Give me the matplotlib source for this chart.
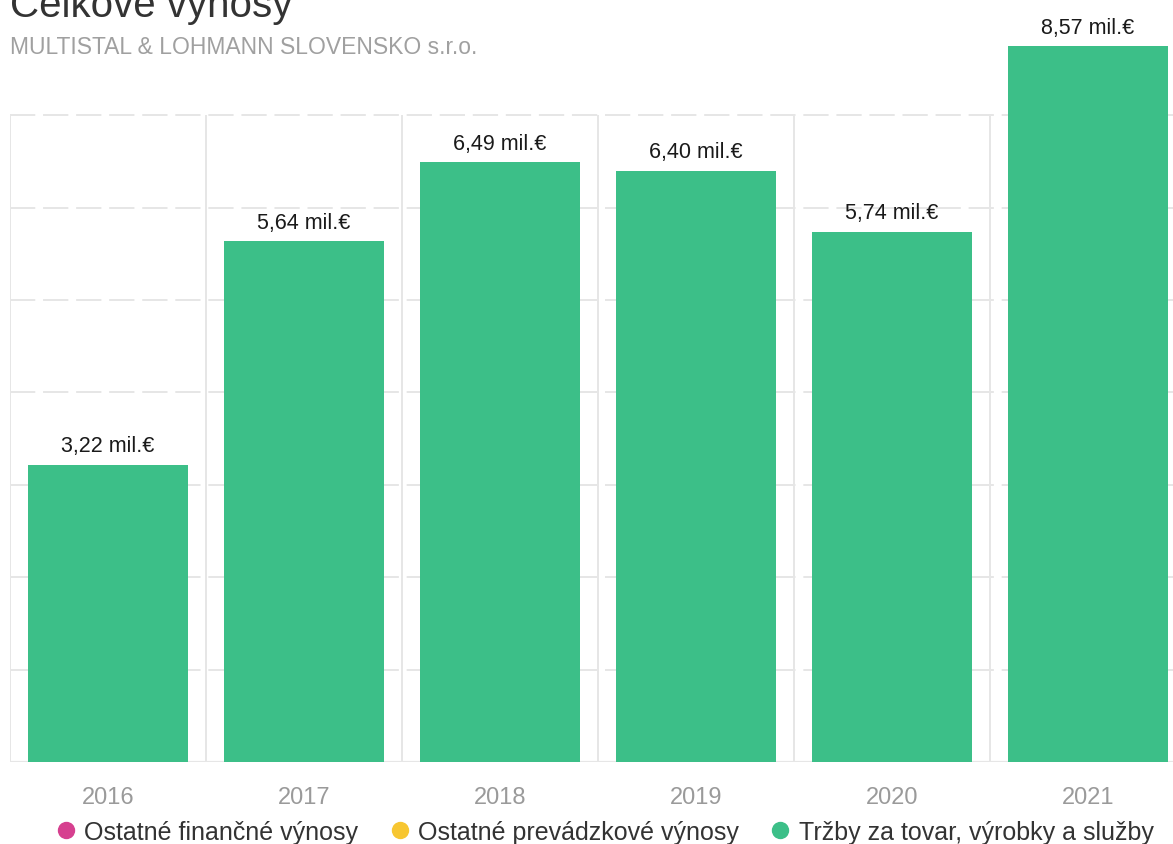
import numpy as np
import matplotlib.pyplot as plt
from matplotlib.lines import Line2D

plt.rcParams['font.family'] = ['Liberation Sans', 'DejaVu Sans']

years = ['2016', '2017', '2018', '2019', '2020', '2021']
trzby = [3.22, 5.64, 6.49, 6.40, 5.74, 8.57]
labels = ['3,22 mil.€', '5,64 mil.€', '6,49 mil.€', '6,40 mil.€', '5,74 mil.€', '8,57 mil.€']
series = ['Ostatné finančné výnosy', 'Ostatné prevádzkové výnosy', 'Tržby za tovar, výrobky a služby']
colors = ['#d6408f', '#f7c631', '#3cbf88']

W, H = 1173, 845
fig = plt.figure(figsize=(W / 100, H / 100), dpi=100)
# axes runs a bit past the right edge of the picture (cropped like the original)
ax = fig.add_axes([10 / W, 1 - 763 / H, 1176 / W, (763 - 47) / H])

x = np.arange(len(years))
ymax = 7.75
ax.set_xlim(-0.5, len(years) - 0.5)
ax.set_ylim(0, ymax)

grid_c = '#e6e6e6'
ax.hlines(np.arange(1, 8), -0.5, len(years) - 0.5, colors=grid_c, lw=1.4,
          linestyles=(0, (13, 4)), zorder=0)
ax.vlines(np.arange(-0.5, len(years)), 0, 7, colors=grid_c, lw=1.4, zorder=0)
ax.axhline(0, color=grid_c, lw=1.6, zorder=0)

ax.bar(x, trzby, width=0.816, color=colors[2], zorder=2)

for xi, v, lab in zip(x, trzby, labels):
    top = min(v, ymax)
    ax.annotate(lab, (xi, top), xytext=(0, 6), textcoords='offset points',
                ha='center', va='bottom', fontsize=15.5, color='#1a1a1a',
                annotation_clip=False)

ax.set_xticks(x)
ax.set_xticklabels(years, fontsize=17, color='#9a9a9a')
ax.tick_params(axis='x', length=0, pad=17)
ax.set_yticks([])
for s in ax.spines.values():
    s.set_visible(False)

fig.text(10 / W, 1 - 17 / H, 'Celkové výnosy', fontsize=29, color='#333333',
         ha='left', va='baseline')
fig.text(10 / W, 1 - 48 / H, 'MULTISTAL & LOHMANN SLOVENSKO s.r.o.', fontsize=16.5,
         color='#a0a0a0', ha='left', va='center')

handles = [Line2D([], [], ls='', marker='o', ms=11.5, color=c) for c in colors]
fig.legend(handles, series, loc='center', bbox_to_anchor=(606 / W, 1 - 833 / H),
           ncol=3, frameon=False, fontsize=18, handlelength=0.6,
           handletextpad=0.45, columnspacing=1.35, labelcolor='#333333',
           borderpad=0)

fig.savefig('out.png', dpi=100)
